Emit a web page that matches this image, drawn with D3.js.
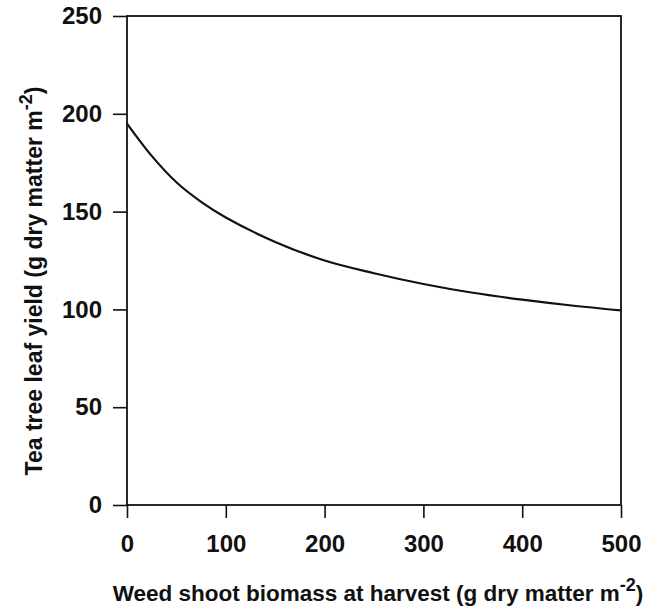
<!DOCTYPE html>
<html><head><meta charset="utf-8">
<script src="https://cdn.jsdelivr.net/npm/d3@7"></script>
<style>body{margin:0;background:#fff}svg{display:block}</style>
</head><body>
<svg id="c" width="645" height="613"></svg>
<script>
const weed = [0, 25, 50, 75, 100, 150, 200, 250, 300, 350, 400, 450, 500];
const yieldVals = [195, 178.5, 165, 155, 147, 134.5, 125, 118.5, 113, 108.5, 105, 102, 99.5];
const xTicks = [0, 100, 200, 300, 400, 500];
const yTicks = [0, 50, 100, 150, 200, 250];

const svg = d3.select("#c");
const L = 127, R = 621, T = 16, B = 505;
const x = d3.scaleLinear().domain([0, 500]).range([L, R]);
const y = d3.scaleLinear().domain([0, 250]).range([B, T]);
const font = "'Liberation Sans', Arial, Helvetica, sans-serif";

// frame
svg.append("rect").attr("x", L).attr("y", T).attr("width", R - L).attr("height", B - T)
  .attr("fill", "none").attr("stroke", "#111").attr("stroke-width", 1.8);

const xa = svg.append("g").attr("transform", `translate(0,${B})`)
  .call(d3.axisBottom(x).tickValues(xTicks).tickSize(13).tickPadding(17).tickFormat(d3.format("d")));
const ya = svg.append("g").attr("transform", `translate(${L},0)`)
  .call(d3.axisLeft(y).tickValues(yTicks).tickSize(14).tickPadding(11).tickFormat(d3.format("d")));
[xa, ya].forEach(g => {
  g.select(".domain").remove();
  g.selectAll(".tick line").attr("stroke", "#111").attr("stroke-width", 1.6);
  g.selectAll(".tick text").attr("fill", "#111").style("font-family", font)
    .style("font-weight", "bold").style("font-size", "24px");
});

svg.append("path").datum(weed.map((w, i) => [w, yieldVals[i]]))
  .attr("fill", "none").attr("stroke", "#111").attr("stroke-width", 2.2)
  .attr("d", d3.line().x(d => x(d[0])).y(d => y(d[1])).curve(d3.curveCatmullRom));

// x title
const xt = svg.append("text").attr("x", 378).attr("y", 601).attr("text-anchor", "middle")
  .style("font-family", font).style("font-weight", "bold").style("font-size", "22.5px").attr("fill", "#111");
xt.append("tspan").text("Weed shoot biomass at harvest (g dry matter m");
xt.append("tspan").attr("dy", -10).style("font-size", "18px").text("-2");
xt.append("tspan").attr("dy", 10).text(")");

// y title
const yt = svg.append("text").attr("transform", "translate(42,281) rotate(-90)").attr("text-anchor", "middle")
  .style("font-family", font).style("font-weight", "bold").style("font-size", "23px").attr("fill", "#111");
yt.append("tspan").text("Tea tree leaf yield (g dry matter m");
yt.append("tspan").attr("dy", -10).style("font-size", "18px").text("-2");
yt.append("tspan").attr("dy", 10).text(")");
</script>
</body></html>
